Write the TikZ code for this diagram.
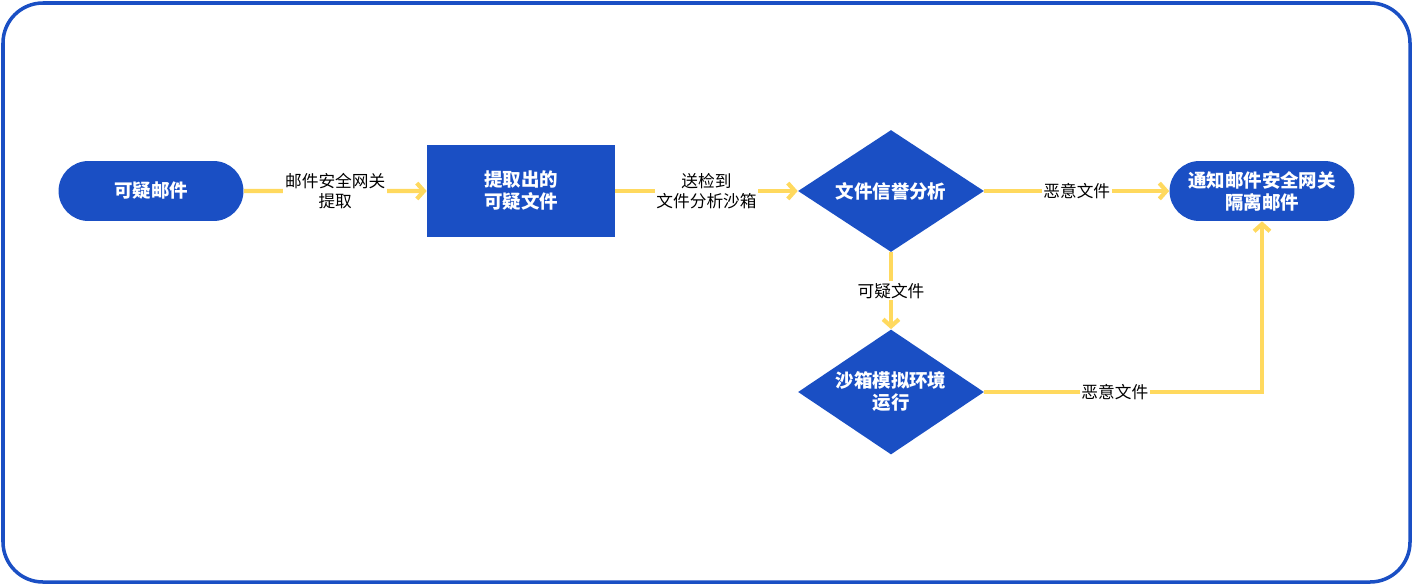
\documentclass[tikz,border=0pt]{standalone}
\usepackage{fontspec}
\setmainfont{Noto Sans CJK SC}
\usetikzlibrary{arrows.meta,shapes.geometric,shapes.misc,positioning}
\definecolor{mainblue}{HTML}{1A4FC4}
\definecolor{flowyel}{HTML}{FFD95E}
\tikzset{
  pill/.style={rounded rectangle, fill=mainblue, text=white, font=\bfseries\fontsize{10.5}{12.5}\selectfont,
    minimum width=3.84cm, minimum height=1.2cm, align=center, inner sep=2pt},
  box/.style={rectangle, fill=mainblue, text=white, font=\bfseries\fontsize{10.5}{12.5}\selectfont,
    minimum width=3.76cm, minimum height=1.86cm, align=center},
  decide/.style={diamond, fill=mainblue, text=white, font=\bfseries\fontsize{10.5}{12.5}\selectfont,
    minimum width=3.72cm, minimum height=2.44cm, aspect=1.5, inner sep=0pt, align=center},
  flow/.style={draw=flowyel, line width=2.4pt, -{Straight Barb[length=4pt,width=9pt]}},
  lbl/.style={fill=white, text=black, font=\fontsize{9.5}{11.5}\selectfont, align=center, inner sep=1pt}
}
\begin{document}
\begin{tikzpicture}[x=0.02cm,y=-0.02cm]
\useasboundingbox (0,0) rectangle (1413,585);
\draw[mainblue, line width=2pt, rounded corners=0.8cm] (3,3) rectangle (1410,582);

\node[pill] (mail) at (151,191) {可疑邮件};
\node[box] (file) at (521,191) {提取出的\\可疑文件};
\node[decide] (rep) at (891,191) {文件信誉分析};
\node[pill] (notify) at (1262,191) {通知邮件安全网关\\隔离邮件};
\node[decide, minimum height=2.5cm] (sand) at (891,392) {沙箱模拟环境\\运行};

\draw[flow] (mail) -- node[lbl] {邮件安全网关\\提取} (file);
\draw[flow] (file) -- node[lbl] {送检到\\文件分析沙箱} (rep);
\draw[flow] (rep) -- node[lbl] {恶意文件} (notify);
\draw[flow] (rep) -- node[lbl] {可疑文件} (sand);
\draw[flow] (sand.east) -- node[lbl, pos=0.47] {恶意文件} (1262,392) -- (notify.south);
\end{tikzpicture}
\end{document}
